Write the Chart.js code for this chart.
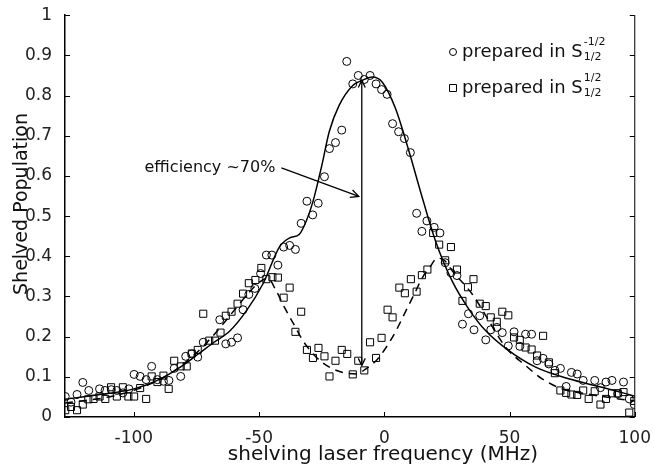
<!DOCTYPE html>
<html>
<head>
<meta charset="utf-8">
<script src="https://cdn.jsdelivr.net/npm/chart.js@4/dist/chart.umd.min.js"></script>
<style>
  body { margin: 0; background: #fff; }
</style>
</head>
<body>
<canvas id="myChart" width="654" height="473"></canvas>
<script>
// data
const circleFreq = [-127.4, -125.1, -122.7, -120.4, -118, -113.7, -111.5, -109, -106.8, -104.4, -102, -99.9, -97.5, -95.1, -92.9, -90.6, -88.2, -86, -83.9, -81.3, -79.3, -76.9, -74.5, -72.3, -65.7, -63.3, -61, -58.6, -56.4, -54.1, -51.7, -49.4, -47.1, -44.9, -42.5, -40.2, -37.8, -35.5, -33.2, -30.9, -28.6, -26.4, -23.9, -21.9, -19.5, -17, -15, -12.6, -10.4, -8, -5.7, -3.3, -1.1, 1.1, 3.3, 5.7, 8, 10.4, 12.9, 15, 17, 19.9, 22.2, 24.3, 26.6, 29, 31.2, 33.6, 35.8, 38.1, 40.5, 42.5, 44.9, 47.1, 49.5, 51.8, 54.1, 56.4, 58.8, 61, 63.4, 65.7, 68.1, 70.3, 72.6, 74.7, 77, 79.4, 84, 86.3, 88.5, 90.9, 93.2, 95.5, 97.8, 99.8];
const circlePop = [0.051, 0.037, 0.056, 0.086, 0.066, 0.070, 0.066, 0.068, 0.066, 0.060, 0.070, 0.106, 0.101, 0.093, 0.126, 0.093, 0.089, 0.091, 0.121, 0.101, 0.151, 0.157, 0.149, 0.186, 0.242, 0.182, 0.186, 0.197, 0.267, 0.305, 0.320, 0.357, 0.403, 0.403, 0.378, 0.423, 0.427, 0.417, 0.482, 0.537, 0.503, 0.532, 0.598, 0.668, 0.683, 0.714, 0.885, 0.829, 0.850, 0.840, 0.850, 0.829, 0.815, 0.803, 0.730, 0.710, 0.693, 0.658, 0.507, 0.462, 0.488, 0.472, 0.458, 0.384, 0.359, 0.352, 0.231, 0.257, 0.217, 0.252, 0.192, 0.217, 0.223, 0.210, 0.177, 0.212, 0.176, 0.206, 0.206, 0.140, 0.146, 0.132, 0.116, 0.121, 0.076, 0.111, 0.107, 0.091, 0.091, 0.073, 0.087, 0.091, 0.058, 0.087, 0.045, 0.031];

const squareFreq = [-127.4, -125.1, -122.7, -120.4, -118.2, -116.1, -113.7, -111.4, -109.1, -106.8, -104.4, -102.2, -99.9, -97.5, -95.1, -92.9, -90.6, -88.2, -86.1, -83.9, -81.3, -78.9, -76.9, -74.5, -72.3, -69.9, -67.6, -65.4, -63.3, -61, -58.6, -56.4, -54.1, -51.5, -49.1, -47.1, -44.7, -42.5, -40.2, -37.8, -35.5, -33.2, -30.9, -28.5, -26.3, -23.9, -21.9, -19.5, -17, -14.8, -12.6, -10.4, -8, -5.7, -3.3, -1.1, 1.3, 3.3, 6, 8.2, 10.6, 12.9, 15, 17.2, 19.5, 21.9, 24.3, 26.6, 29, 31.2, 33.4, 35.6, 38.1, 40.5, 42.5, 44.9, 47.1, 49.5, 51.8, 54.1, 56.4, 58.8, 61, 63.4, 65.7, 68.1, 70.3, 72.6, 74.7, 77, 79.4, 81.6, 84, 86.3, 88.5, 90.9, 93.2, 95.5, 97.8, 99.8];
const squarePop = [0.017, 0.025, 0.017, 0.031, 0.044, 0.045, 0.051, 0.045, 0.074, 0.051, 0.074, 0.051, 0.051, 0.072, 0.045, 0.101, 0.087, 0.103, 0.070, 0.140, 0.126, 0.126, 0.158, 0.167, 0.257, 0.190, 0.190, 0.210, 0.252, 0.262, 0.282, 0.307, 0.333, 0.341, 0.371, 0.343, 0.348, 0.347, 0.297, 0.322, 0.212, 0.262, 0.167, 0.147, 0.172, 0.151, 0.101, 0.140, 0.167, 0.157, 0.106, 0.140, 0.116, 0.186, 0.147, 0.197, 0.267, 0.248, 0.322, 0.308, 0.343, 0.312, 0.353, 0.367, 0.458, 0.429, 0.390, 0.423, 0.367, 0.289, 0.323, 0.343, 0.282, 0.276, 0.248, 0.237, 0.262, 0.253, 0.198, 0.192, 0.173, 0.168, 0.153, 0.202, 0.136, 0.109, 0.066, 0.060, 0.056, 0.055, 0.066, 0.045, 0.064, 0.031, 0.045, 0.059, 0.059, 0.062, 0.011, 0.040];

// fitted curves
const solidFreq = [-127.5, -115, -100, -90, -81, -74, -68, -61.7, -55.1, -48.5, -41.8, -37.8, -33.9, -31.2, -28.5, -25, -22, -18, -12.6, -8.8, -4.8, -0.8, 4.5, 9.9, 15.2, 20.5, 27.1, 33.8, 40.4, 49.7, 60.4, 73.6, 86.9, 100];
const solidPop = [0.044, 0.055, 0.070, 0.093, 0.126, 0.158, 0.186, 0.214, 0.264, 0.331, 0.424, 0.446, 0.455, 0.487, 0.536, 0.625, 0.710, 0.776, 0.825, 0.838, 0.846, 0.833, 0.767, 0.660, 0.545, 0.437, 0.338, 0.268, 0.215, 0.165, 0.124, 0.095, 0.074, 0.052];

const dashFreq = [-127.5, -110, -98.3, -85, -75, -68, -60, -54, -50, -46.5, -43.5, -39.8, -35.8, -32.5, -27.2, -21.9, -16.6, -11.3, -7.3, -3.3, 0.7, 4.7, 8.6, 11.9, 15.2, 17.9, 21.2, 24, 27.2, 35.2, 41.8, 48.5, 56.4, 63, 71, 80.3, 93.6, 100];
const dashPop = [0.035, 0.050, 0.070, 0.110, 0.160, 0.205, 0.265, 0.31, 0.335, 0.345, 0.318, 0.272, 0.227, 0.190, 0.149, 0.124, 0.111, 0.107, 0.120, 0.140, 0.173, 0.215, 0.264, 0.305, 0.347, 0.370, 0.395, 0.390, 0.363, 0.305, 0.239, 0.173, 0.128, 0.095, 0.070, 0.058, 0.045, 0.040];

const freqTicks = [-100, -50, 0, 50, 100];
const popTicks = [0, 0.1, 0.2, 0.3, 0.4, 0.5, 0.6, 0.7, 0.8, 0.9, 1];

// annotations (data units)
const spanArrow = [-9, 0.128, 0.838];          // x, from, to
const effArrow = [-41.1, 0.620, -10.2, 0.549];  // x1, y1, x2, y2
const effLabel = 'efficiency ~70%';

const FONT = '"DejaVu Sans", sans-serif';

function pts(xs, ys) {
  return xs.map((x, i) => ({ x: x, y: ys[i] }));
}

function arrowHead(ctx, x1, y1, x2, y2, len) {
  let a = Math.atan2(y2 - y1, x2 - x1);
  ctx.beginPath();
  ctx.moveTo(x2 - len * Math.cos(a - 0.45), y2 - len * Math.sin(a - 0.45));
  ctx.lineTo(x2, y2);
  ctx.lineTo(x2 - len * Math.cos(a + 0.45), y2 - len * Math.sin(a + 0.45));
  ctx.stroke();
}

const frame = {
  id: 'frame',
  afterDraw(chart) {
    const ctx = chart.ctx;
    const xs = chart.scales.x, ys = chart.scales.y;
    const a = chart.chartArea;
    ctx.save();
    ctx.strokeStyle = '#000';
    ctx.lineWidth = 1;
    // right border
    ctx.beginPath();
    ctx.moveTo(a.right, a.top);
    ctx.lineTo(a.right, a.bottom);
    ctx.stroke();
    // inward ticks
    ctx.beginPath();
    freqTicks.forEach(v => {
      let px = Math.round(xs.getPixelForValue(v)) + 0.5;
      ctx.moveTo(px, a.bottom);
      ctx.lineTo(px, a.bottom - 5);
    });
    popTicks.forEach(v => {
      let py = Math.round(ys.getPixelForValue(v)) + 0.5;
      ctx.moveTo(a.left, py);
      ctx.lineTo(a.left + 5, py);
      ctx.moveTo(a.right, py);
      ctx.lineTo(a.right - 5, py);
    });
    ctx.stroke();

    // arrows
    ctx.lineWidth = 1.3;
    let ax = xs.getPixelForValue(spanArrow[0]);
    let ay1 = ys.getPixelForValue(spanArrow[1]);
    let ay2 = ys.getPixelForValue(spanArrow[2]);
    ctx.beginPath();
    ctx.moveTo(ax, ay1);
    ctx.lineTo(ax, ay2);
    ctx.stroke();
    arrowHead(ctx, ax, ay2, ax, ay1, 8);
    arrowHead(ctx, ax, ay1, ax, ay2, 8);

    let ex1 = xs.getPixelForValue(effArrow[0]), ey1 = ys.getPixelForValue(effArrow[1]);
    let ex2 = xs.getPixelForValue(effArrow[2]), ey2 = ys.getPixelForValue(effArrow[3]);
    ctx.beginPath();
    ctx.moveTo(ex1, ey1);
    ctx.lineTo(ex2, ey2);
    ctx.stroke();
    arrowHead(ctx, ex1, ey1, ex2, ey2, 9);

    ctx.fillStyle = '#111';
    ctx.font = '16px ' + FONT;
    ctx.textAlign = 'right';
    ctx.textBaseline = 'middle';
    ctx.fillText(effLabel, ex1 - 6, ey1);

    // axis titles
    ctx.font = '20px ' + FONT;
    ctx.textAlign = 'center';
    ctx.fillText('shelving laser frequency (MHz)', 383, 455);
    ctx.save();
    ctx.translate(22, 204);
    ctx.rotate(-Math.PI / 2);
    ctx.font = '19px ' + FONT;
    ctx.fillText('Shelved Population', 0, 0);
    ctx.restore();

    // legend
    const rows = [
      { y: 52, sup: '-1/2', sym: 'circle' },
      { y: 88, sup: '1/2', sym: 'rect' }
    ];
    ctx.lineWidth = 1;
    rows.forEach(r => {
      ctx.beginPath();
      if (r.sym === 'circle') {
        ctx.arc(453, r.y, 3.5, 0, Math.PI * 2);
      } else {
        ctx.rect(449.5, r.y - 3.5, 7, 7);
      }
      ctx.stroke();
      ctx.font = '18px ' + FONT;
      ctx.textAlign = 'left';
      ctx.textBaseline = 'middle';
      let t = 'prepared in S';
      ctx.fillText(t, 462, r.y);
      let w = ctx.measureText(t).width;
      ctx.font = '11px ' + FONT;
      ctx.fillText(r.sup, 462 + w + 1, r.y - 10);
      ctx.fillText('1/2', 462 + w + 1, r.y + 5);
    });
    ctx.restore();
  }
};

const ctx = document.getElementById('myChart').getContext('2d');

var myChart = new Chart(ctx, {
  type: 'scatter',
  data: {
    datasets: [
      {
        label: 'fit S-1/2',
        data: pts(solidFreq, solidPop),
        showLine: true,
        borderColor: '#000',
        borderWidth: 1.5,
        pointRadius: 0,
        cubicInterpolationMode: 'monotone'
      },
      {
        label: 'fit S1/2',
        data: pts(dashFreq, dashPop),
        showLine: true,
        borderColor: '#000',
        borderWidth: 1.5,
        borderDash: [8, 6],
        pointRadius: 0,
        cubicInterpolationMode: 'monotone'
      },
      {
        label: 'prepared in S-1/2',
        data: pts(circleFreq, circlePop),
        pointStyle: 'circle',
        pointRadius: 4,
        borderColor: '#000',
        borderWidth: 1,
        backgroundColor: 'rgba(0,0,0,0)'
      },
      {
        label: 'prepared in S1/2',
        data: pts(squareFreq, squarePop),
        pointStyle: 'rect',
        pointRadius: 5,
        borderColor: '#000',
        borderWidth: 1,
        backgroundColor: 'rgba(0,0,0,0)'
      }
    ]
  },
  options: {
    responsive: false,
    animation: false,
    layout: { padding: { top: 12, right: 18, left: 0, bottom: 0 } },
    plugins: {
      legend: { display: false },
      tooltip: { enabled: false }
    },
    scales: {
      x: {
        type: 'linear',
        min: -127.5,
        max: 100,
        afterBuildTicks: s => { s.ticks = freqTicks.map(v => ({ value: v })); },
        afterFit: s => { s.height = 56; },
        grid: { display: false },
        border: { display: true, color: '#000', width: 1.5 },
        ticks: { color: '#222', font: { family: FONT, size: 17 }, padding: 3, maxRotation: 0 }
      },
      y: {
        min: 0,
        max: 1,
        afterBuildTicks: s => { s.ticks = popTicks.map(v => ({ value: v })); },
        afterFit: s => { s.width = 65; },
        grid: { display: false },
        border: { display: true, color: '#000', width: 1.5 },
        ticks: {
          color: '#222',
          font: { family: FONT, size: 17 },
          padding: 5,
          callback: v => String(+v.toFixed(1))
        }
      }
    }
  },
  plugins: [frame]
});
</script>
</body>
</html>
